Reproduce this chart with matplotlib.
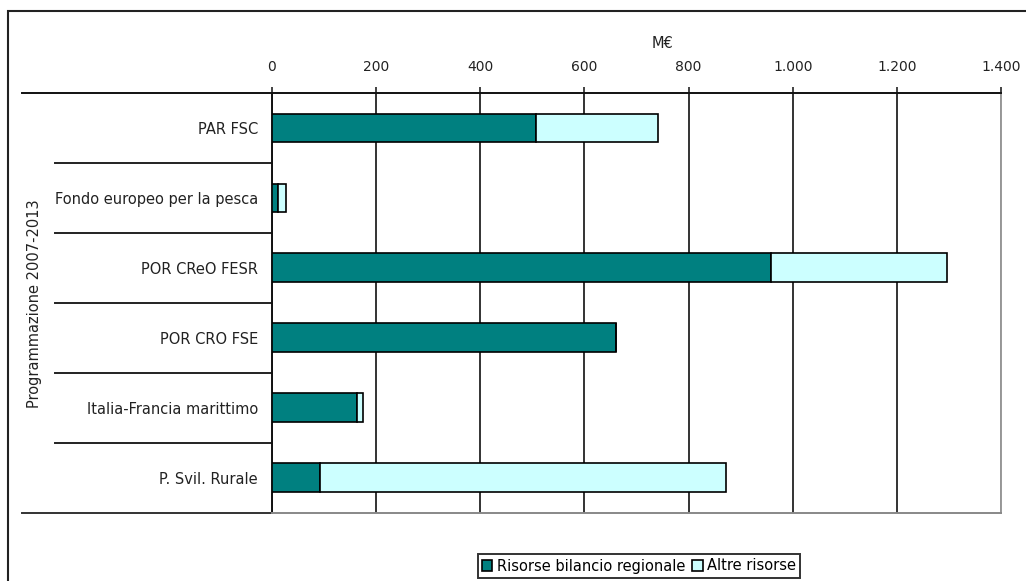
import matplotlib.pyplot as plt
from matplotlib.patches import Rectangle
from matplotlib.ticker import FuncFormatter
import matplotlib.transforms as mtransforms

plt.rcParams['font.family'] = ['DejaVu Sans']
plt.rcParams['font.size'] = 10.5

categories = ['PAR FSC', 'Fondo europeo per la pesca', 'POR CReO FESR',
              'POR CRO FSE', 'Italia-Francia marittimo', 'P. Svil. Rurale']
regionale = [507, 12, 959, 660, 164, 93]
altre = [234, 15, 337, 0, 10, 778]
xticks = [0, 200, 400, 600, 800, 1000, 1200, 1400]

dark = '#008080'
light = '#CCFFFF'

W, H = 1026, 581
fig = plt.figure(figsize=(W / 100, H / 100), dpi=100)
ax = fig.add_axes([272 / W, 1 - 512.5 / H, (1001 - 272) / W, (512.5 - 93) / H])

ypos = list(range(len(categories)))
ax.barh(ypos, regionale, height=0.41, color=dark, edgecolor='black', linewidth=1.2,
        label='Risorse bilancio regionale', zorder=3)
ax.barh(ypos, altre, left=regionale, height=0.41, color=light, edgecolor='black',
        linewidth=1.2, label='Altre risorse', zorder=3)

ax.set_ylim(len(categories) - 0.5, -0.5)
ax.set_xlim(0, 1400)
ax.set_xticks(xticks)
ax.xaxis.set_major_formatter(FuncFormatter(lambda v, p: f'{int(v):,}'.replace(',', '.')))
ax.xaxis.tick_top()
ax.tick_params(axis='x', length=4, width=1.2, color='#222222', pad=10, labelsize=10,
               labelcolor='#222222')
ax.set_yticks(ypos)
ax.set_yticklabels(categories, fontsize=10.5, color='#222222')
ax.tick_params(axis='y', length=0, pad=10)

ax.grid(axis='x', color='#333333', linewidth=1.4, zorder=0)
ax.set_axisbelow(True)

ax.spines['top'].set_color('#111111')
ax.spines['top'].set_linewidth(1.4)
ax.spines['left'].set_color('#111111')
ax.spines['left'].set_linewidth(1.4)
ax.spines['bottom'].set_color('#888888')
ax.spines['bottom'].set_linewidth(1.4)
ax.spines['right'].set_color('#999999')
ax.spines['right'].set_linewidth(1.4)

# category separators to the left of the plot
trans = mtransforms.blended_transform_factory(ax.transAxes, ax.transData)
x_sep = (55 - 272) / (1001 - 272)
x_edge = (22 - 272) / (1001 - 272)
for i in range(len(categories) - 1):
    ax.plot([x_sep, 0], [i + 0.5, i + 0.5], transform=trans, color='#222222',
            linewidth=1.4, clip_on=False)
for yb in [-0.5, len(categories) - 0.5]:
    c = '#111111' if yb < 0 else '#333333'
    ax.plot([x_edge, 0], [yb, yb], transform=trans, color=c, linewidth=1.4, clip_on=False)

ax.text(0.536, 1.118, 'M€', transform=ax.transAxes, ha='center', va='center',
        fontsize=10.5, color='#222222')

fig.text(35 / W, 1 - 304 / H, 'Programmazione 2007-2013', rotation=90,
         ha='center', va='center', fontsize=10.5, color='#222222')

# outer chart frame
fig.patches.append(Rectangle((8 / W, -0.1), 1.2, 1.1 - 11 / H, transform=fig.transFigure,
                             fill=False, edgecolor='#222222', linewidth=1.5))

leg = fig.legend(loc='center', bbox_to_anchor=(639 / W, 1 - 566 / H), ncol=2,
                 frameon=True, fancybox=False, edgecolor='black', fontsize=10.5,
                 handlelength=0.7, handleheight=0.7, handletextpad=0.3,
                 columnspacing=0.5, borderpad=0.3, borderaxespad=0)
leg.get_frame().set_linewidth(1.4)

fig.savefig('out.png', dpi=100)
